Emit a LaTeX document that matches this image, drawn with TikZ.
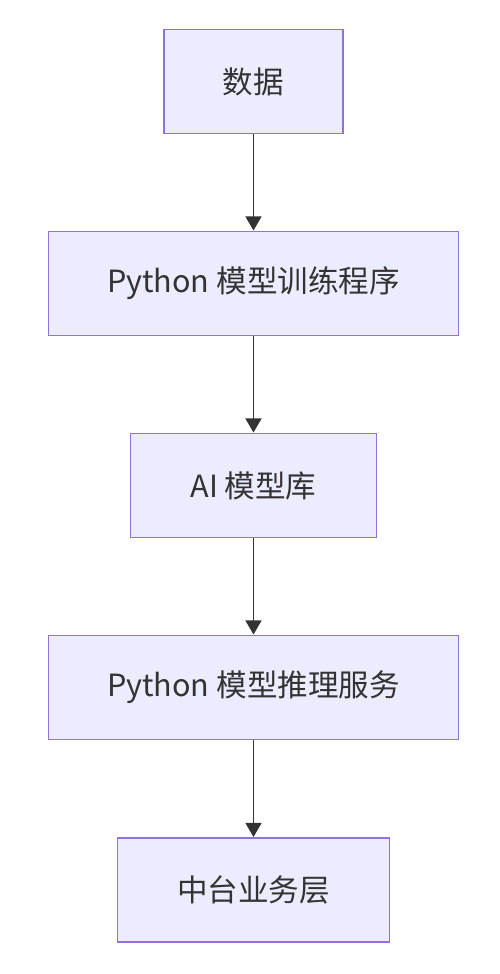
\documentclass[tikz,border=0pt]{standalone}
\usepackage{fontspec}
\setmainfont{Noto Sans CJK SC}
\usetikzlibrary{arrows.meta}
\begin{document}
\begin{tikzpicture}[x=0.02cm,y=-0.02cm,
  box/.style={draw=mmborder,fill=mmfill,line width=1.1pt,inner sep=0pt,font=\fontsize{17.4}{21}\selectfont,text=mmtext},
  arr/.style={draw=mmline,line width=1.1pt,-{Triangle[length=8pt,width=9pt]}}]
\definecolor{mmborder}{HTML}{9370DB}
\definecolor{mmfill}{HTML}{ECECFF}
\definecolor{mmline}{HTML}{333333}
\definecolor{mmtext}{HTML}{333333}
\useasboundingbox (0,0) rectangle (500,974);
\node[box,minimum width=179*0.02cm,minimum height=104*0.02cm] (a) at (253.5,81.5) {数据};
\node[box,minimum width=410*0.02cm,minimum height=104*0.02cm] (b) at (253.5,283.5) {Python 模型训练程序};
\node[box,minimum width=246*0.02cm,minimum height=104*0.02cm] (c) at (253.5,485.5) {AI 模型库};
\node[box,minimum width=410*0.02cm,minimum height=104*0.02cm] (d) at (253.5,687.5) {Python 模型推理服务};
\node[box,minimum width=272*0.02cm,minimum height=104*0.02cm] (e) at (253.5,890) {中台业务层};
\draw[arr] (a) -- (b);
\draw[arr] (b) -- (c);
\draw[arr] (c) -- (d);
\draw[arr] (d) -- (e);
\end{tikzpicture}
\end{document}
